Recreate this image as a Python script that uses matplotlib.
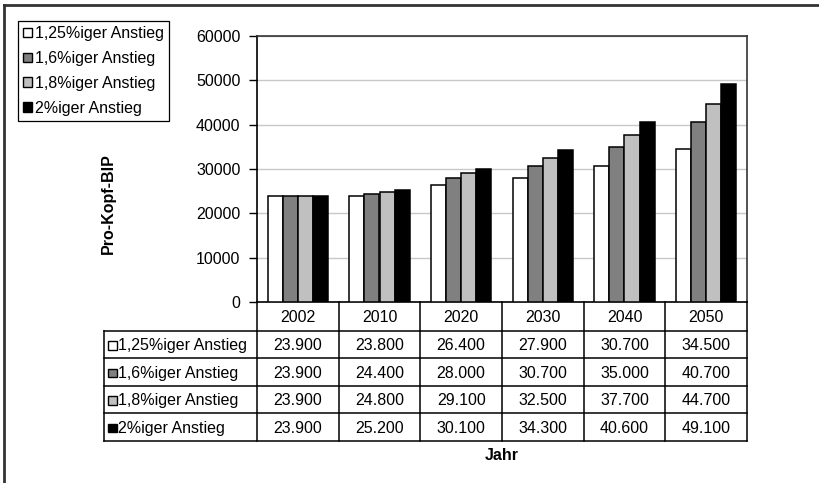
import numpy as np
import matplotlib
matplotlib.use("Agg")
import matplotlib.pyplot as plt
from matplotlib.patches import Patch, Rectangle

plt.rcParams['font.family'] = ['Liberation Sans', 'DejaVu Sans']
plt.rcParams['font.size'] = 11.5

years = ['2002', '2010', '2020', '2030', '2040', '2050']
series_names = ['1,25%iger Anstieg', '1,6%iger Anstieg', '1,8%iger Anstieg', '2%iger Anstieg']
s125 = [23900, 23800, 26400, 27900, 30700, 34500]
s16 = [23900, 24400, 28000, 30700, 35000, 40700]
s18 = [23900, 24800, 29100, 32500, 37700, 44700]
s20 = [23900, 25200, 30100, 34300, 40600, 49100]
series = [s125, s16, s18, s20]
colors = ['#ffffff', '#808080', '#c0c0c0', '#000000']

W, H = 819, 483
fs = 11.5
fig = plt.figure(figsize=(W / 100, H / 100), dpi=100)

# figure frame (only top and left visible in the source)
fig.add_artist(plt.Line2D([3.5 / W, 3.5 / W], [0, 1 - 4.5 / H], color='#333333', lw=2))
fig.add_artist(plt.Line2D([3.5 / W, 1], [1 - 4.5 / H, 1 - 4.5 / H], color='#333333', lw=2))

# main plot area
x0, x1, ytop, ybot = 257, 747, 36, 302
ax = fig.add_axes([x0 / W, 1 - ybot / H, (x1 - x0) / W, (ybot - ytop) / H])
x = np.arange(len(years))
bw = 0.184
for i, (vals, c) in enumerate(zip(series, colors)):
    ax.bar(x + (i - 1.5) * bw, vals, width=bw, color=c, edgecolor='black', linewidth=1.1, zorder=3)
ax.set_xlim(-0.5, len(years) - 0.5)
ax.set_ylim(0, 60000)
ax.set_yticks(range(0, 60001, 10000))
ax.set_xticks([])
ax.yaxis.grid(True, color='#c8c8c8', lw=1)
ax.set_axisbelow(True)
ax.tick_params(axis='y', direction='out', length=6, width=1, pad=6, labelsize=fs)
for side in ['top', 'right']:
    ax.spines[side].set_color('#333333')
    ax.spines[side].set_linewidth(1.2)
for side in ['left', 'bottom']:
    ax.spines[side].set_color('black')
    ax.spines[side].set_linewidth(1.2)

fig.text(108 / W, 1 - 204 / H, 'Pro-Kopf-BIP', rotation=90, ha='center', va='center',
         fontweight='bold', fontsize=fs)

# data table below the chart
tl, tb = 104, 441
tax = fig.add_axes([tl / W, 1 - tb / H, (x1 - tl) / W, (tb - ybot) / H])
ppu = (x1 - x0) / len(years)
xleft = -0.5 - (x0 - tl) / ppu
tax.set_xlim(xleft, len(years) - 0.5)
tax.set_ylim(tb, ybot)
tax.axis('off')
rows = [ybot, 331, 358.5, 386, 413.5, tb]
lc = 'black'
for r in rows[1:]:
    tax.plot([xleft, len(years) - 0.5], [r, r], color=lc, lw=1.1, clip_on=False)
for k in range(len(years) + 1):
    tax.plot([k - 0.5, k - 0.5], [ybot, tb], color=lc, lw=1.1, clip_on=False)
tax.plot([xleft, xleft], [rows[1], tb], color=lc, lw=1.1, clip_on=False)

for j, yr in enumerate(years):
    tax.text(j, (rows[0] + rows[1]) / 2 + 1, yr, ha='center', va='center', fontsize=fs)
sw = 8.5 / ppu
for i, (name, vals, c) in enumerate(zip(series_names, series, colors)):
    yc = (rows[i + 1] + rows[i + 2]) / 2 + 1
    tax.add_patch(Rectangle((xleft + 4 / ppu, yc - 4.25), sw, 8.5, facecolor=c,
                            edgecolor='black', lw=1.0, clip_on=False))
    tax.text(xleft + 14 / ppu, yc, name, ha='left', va='center', fontsize=fs)
    for j, v in enumerate(vals):
        tax.text(j, yc, f"{v:,}".replace(',', '.'), ha='center', va='center', fontsize=fs)

fig.text(502 / W, 1 - 456 / H, 'Jahr', ha='center', va='center', fontweight='bold', fontsize=fs)

# legend
handles = [Patch(facecolor=c, edgecolor='black', lw=1.0) for c in colors]
leg = fig.legend(handles, series_names, loc='upper left', bbox_to_anchor=(18 / W, 1 - 21 / H),
                 borderaxespad=0, fancybox=False, edgecolor='black', framealpha=1,
                 handlelength=0.55, handleheight=0.55, handletextpad=0.2,
                 labelspacing=0.62, borderpad=0.32, fontsize=fs)
leg.get_frame().set_linewidth(0.9)

fig.savefig('out.png', dpi=100)
